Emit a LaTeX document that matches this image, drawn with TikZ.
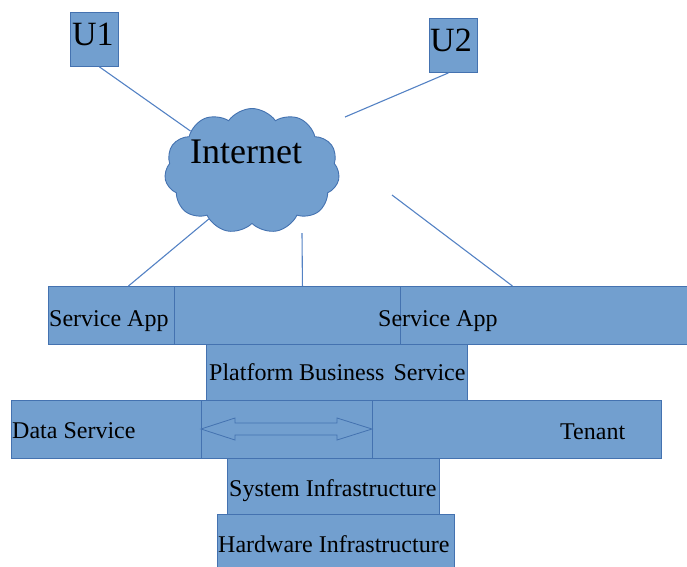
\documentclass[tikz,border=0pt]{standalone}
\usepackage{fontspec}
\newfontfamily\tnr{LiberationSerif}[Extension=.ttf, UprightFont=*-Regular]
\usetikzlibrary{shapes.symbols}
\definecolor{boxfill}{RGB}{114,159,207}
\definecolor{boxline}{RGB}{68,114,176}
\definecolor{wirecol}{RGB}{84,130,196}
\begin{document}
\begin{tikzpicture}[x=1pt,y=-1pt,
  blk/.style={draw=boxline, fill=boxfill, line width=0.9pt, inner sep=0pt, anchor=north west},
  txt/.style={anchor=base west, inner sep=0pt, font=\tnr\fontsize{24}{28}\selectfont},
  bigtxt/.style={anchor=base west, inner sep=0pt, font=\tnr\fontsize{34}{40}\selectfont},
  wire/.style={draw=wirecol, line width=1.1pt}]
\useasboundingbox (0,0) rectangle (687,566);
\clip (0,0) rectangle (687,566);

% user boxes
\node[blk, minimum width=48pt, minimum height=54pt] (u1) at (70,12) {};
\node[blk, minimum width=48pt, minimum height=54pt] (u2) at (429,18) {};
\node[bigtxt] (u1t) at (72,45) {U1};
\node[bigtxt] (u2t) at (430,51) {U2};

% cloud
\node[cloud, cloud puffs=11, cloud puff arc=110, cloud ignores aspect,
      draw=boxline, fill=boxfill, line width=0.9pt, inner sep=0pt,
      minimum width=175pt, minimum height=125pt] (net) at (252,171) {};
\node[anchor=base west, inner sep=0pt, font=\tnr\fontsize{36}{42}\selectfont] (nett) at (190,163) {Internet};

% service app row
\node[blk, minimum width=126pt, minimum height=58pt] (sa1) at (48,286) {};
\node[blk, minimum width=226pt, minimum height=58pt] (sa2) at (174,286) {};
\node[blk, minimum width=300pt, minimum height=58pt] (sa3) at (400,286) {};
\node[txt] (sa1t) at (49,326) {Service App};
\node[txt] (sa3t) at (378,326) {Service App};

% platform
\node[blk, minimum width=261pt, minimum height=56pt] (pbs) at (206,344) {};
\node[txt] (pbst) at (209,380) {Platform Business\hspace{3pt} Service};

% data / tenant row
\node[blk, minimum width=190pt, minimum height=58pt] (ds) at (11,400) {};
\node[blk, minimum width=171pt, minimum height=58pt] (mid) at (201,400) {};
\node[blk, minimum width=289pt, minimum height=58pt] (ten) at (372,400) {};
\node[txt] (dst) at (12,438) {Data Service};
\node[txt] (tent) at (560,439) {Tenant};
\draw[draw=boxline, line width=0.8pt, fill=boxfill]
  (201,429) -- (235,418) -- (235,423) -- (337,423) -- (337,418) -- (372,429)
  -- (337,440) -- (337,435) -- (235,435) -- (235,440) -- cycle;

% infrastructure
\node[blk, minimum width=212pt, minimum height=56pt] (sys) at (227,458) {};
\node[txt] (syst) at (229,496) {System Infrastructure};
\node[blk, minimum width=237pt, minimum height=60pt] (hw) at (217,514) {};
\node[txt] (hwt) at (218,552) {Hardware Infrastructure};

% connectors
\coordinate (u2end) at (345,117);
\coordinate (vtop) at (302,233);
\coordinate (rtop) at (392,195);
\draw[wire] ([xshift=5pt]u1.south) -- (net.147);
\draw[wire] ([xshift=-5pt]u2.south) -- (u2end);
\draw[wire] (net.228) -- ([xshift=17pt]sa1.north);
\draw[wire] (vtop) -- ([xshift=15pt]sa2.north);
\draw[wire] (rtop) -- ([xshift=-38pt]sa3.north);
\end{tikzpicture}
\end{document}
